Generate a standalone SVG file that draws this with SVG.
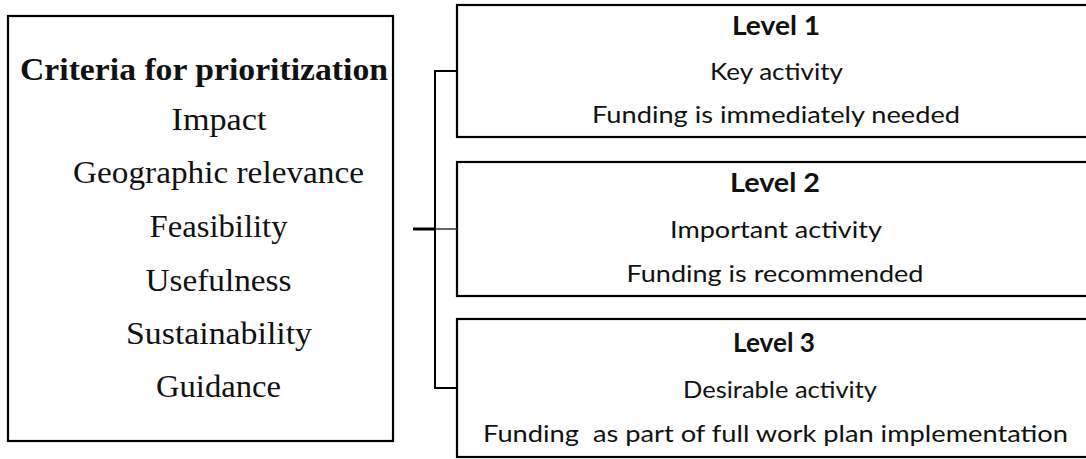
<svg xmlns="http://www.w3.org/2000/svg" width="1086" height="459" viewBox="0 0 1086 459">
<style>
.box{fill:#ffffff;stroke:#000000;stroke-width:2.2}
.serif{font-family:"Liberation Serif","Times New Roman",serif;font-size:31px;fill:#111111;text-anchor:middle}
.sans{font-family:Lato,"Open Sans","Liberation Sans",sans-serif;font-size:23px;fill:#111111;text-anchor:middle}
.head{font-size:26px;font-weight:bold}
.line{fill:none;stroke:#000000;stroke-width:2}
</style>
<rect width="1086" height="459" fill="#ffffff"/>
<g id="criteria">
<rect class="box" x="8" y="16" width="385" height="425"/>
<text class="serif" x="204" y="80" font-weight="bold" textLength="368" lengthAdjust="spacingAndGlyphs">Criteria for prioritization</text>
<text class="serif" x="219" y="130" textLength="95" lengthAdjust="spacingAndGlyphs">Impact</text>
<text class="serif" x="218.5" y="183" textLength="291" lengthAdjust="spacingAndGlyphs">Geographic relevance</text>
<text class="serif" x="218.5" y="237" textLength="138" lengthAdjust="spacingAndGlyphs">Feasibility</text>
<text class="serif" x="218.5" y="290.5" textLength="146" lengthAdjust="spacingAndGlyphs">Usefulness</text>
<text class="serif" x="219" y="344" textLength="186" lengthAdjust="spacingAndGlyphs">Sustainability</text>
<text class="serif" x="218.5" y="396.5" textLength="125" lengthAdjust="spacingAndGlyphs">Guidance</text>
</g>
<g id="level1">
<rect class="box" x="457" y="5" width="640" height="132"/>
<text class="sans head" x="776" y="35" textLength="88" lengthAdjust="spacingAndGlyphs">Level 1</text>
<text class="sans" x="776.5" y="80" textLength="133" lengthAdjust="spacingAndGlyphs">Key activity</text>
<text class="sans" x="776" y="123" textLength="368" lengthAdjust="spacingAndGlyphs">Funding is immediately needed</text>
</g>
<g id="level2">
<rect class="box" x="457" y="162" width="640" height="134"/>
<text class="sans head" x="775" y="191.5" textLength="90" lengthAdjust="spacingAndGlyphs">Level 2</text>
<text class="sans" x="776" y="238" textLength="212" lengthAdjust="spacingAndGlyphs">Important activity</text>
<text class="sans" x="775" y="281.5" textLength="297" lengthAdjust="spacingAndGlyphs">Funding is recommended</text>
</g>
<g id="level3">
<rect class="box" x="457" y="319" width="640" height="138"/>
<text class="sans head" x="774" y="351.5" textLength="82" lengthAdjust="spacingAndGlyphs">Level 3</text>
<text class="sans" x="780" y="398" textLength="194" lengthAdjust="spacingAndGlyphs">Desirable activity</text>
<text class="sans" x="775.5" y="441.5" textLength="585" lengthAdjust="spacingAndGlyphs" xml:space="preserve">Funding  as part of full work plan implementation</text>
</g>
<g id="connectors">
<path class="line" d="M457,71 H435 V388 H457"/>
<path fill="none" stroke="#000000" stroke-width="3" d="M413,229 H435"/>
<path fill="none" stroke="#333333" stroke-width="1.5" d="M435,229 H457"/>
</g>
</svg>
